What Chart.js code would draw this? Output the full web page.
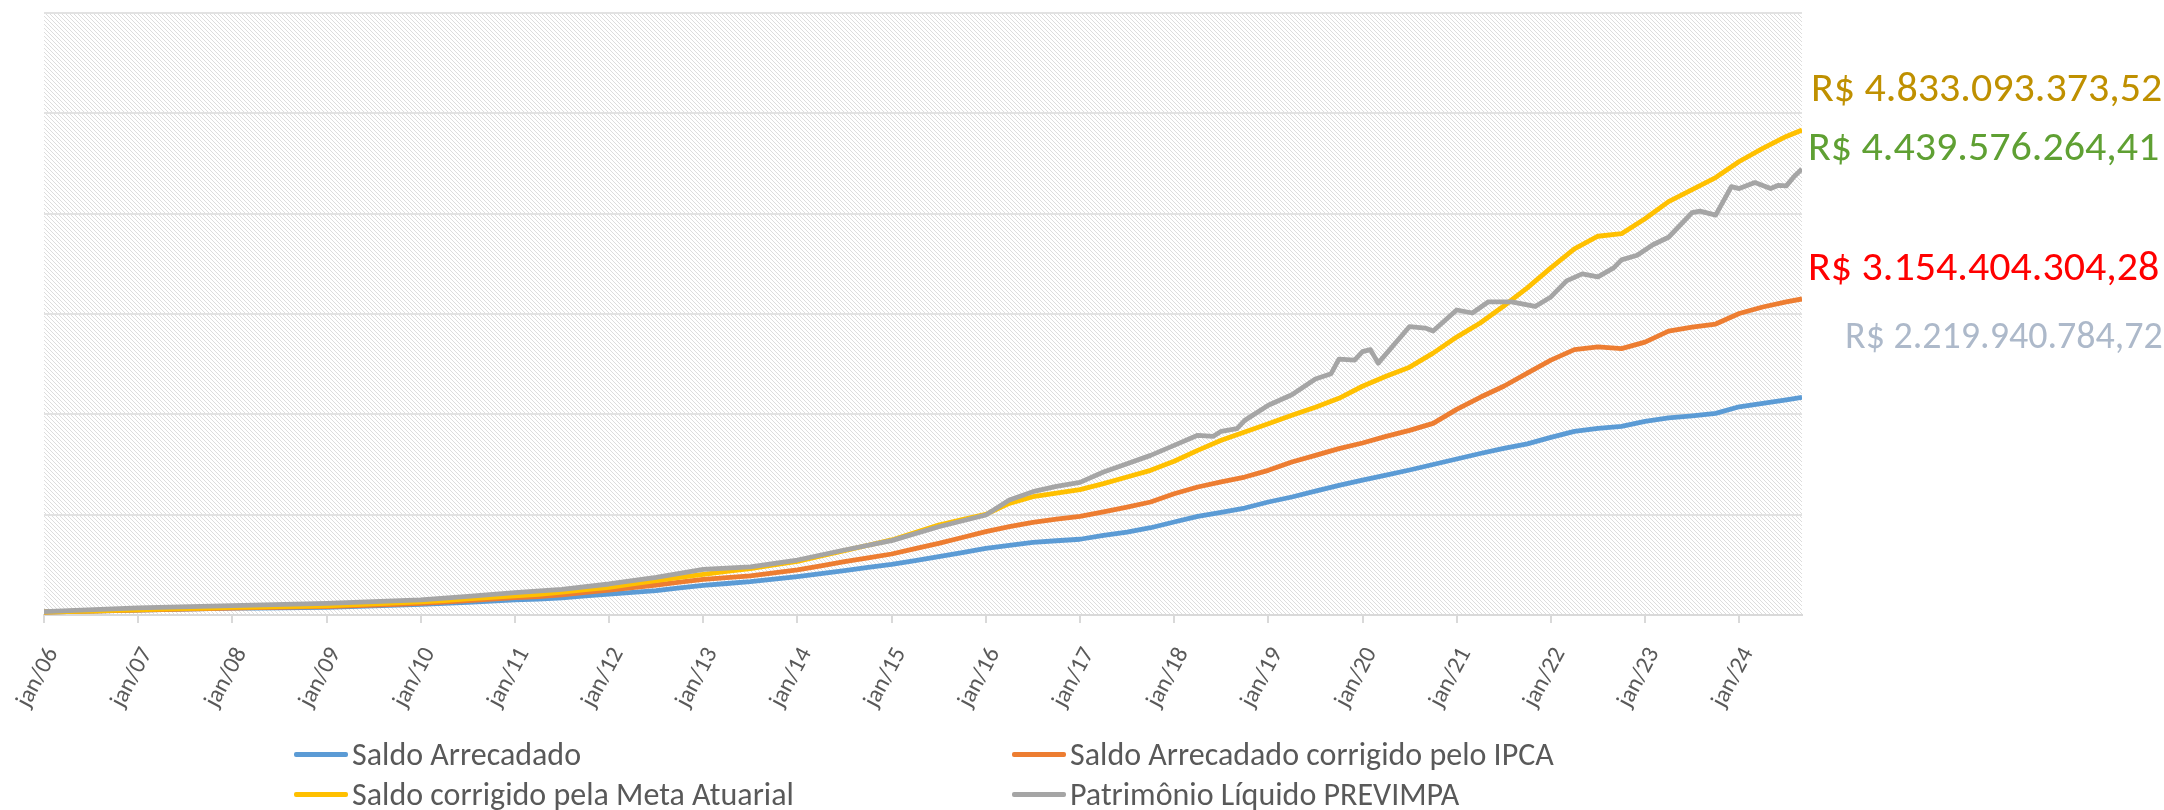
<!DOCTYPE html>
<html>
<head>
<meta charset="utf-8">
<script src="https://cdn.jsdelivr.net/npm/chart.js@4"></script>
<style>
  body { margin: 0; background: #fff; overflow: hidden; }
  #wrap { position: relative; width: 2164px; height: 810px; font-family: Carlito, Calibri, Lato, sans-serif; }
  .lg { position: absolute; display: flex; align-items: center; height: 40px; font-size: 32px; color: #595959; white-space: nowrap; }
  .sw { display: inline-block; width: 54px; height: 5px; margin-right: 4px; border-radius: 2px; }
  .tot { position: absolute; line-height: 50px; white-space: nowrap; }
</style>
</head>
<body>
<div id="wrap">
  <canvas id="chart" width="2164" height="810"></canvas>
  <div id="legend"></div>
  <div id="totals"></div>
</div>
<script>
// month index from jan/06 (0) to sep/24 (224)
const months = [0,3,6,9,12,15,18,21,24,27,30,33,36,39,42,45,48,51,54,57,60,63,66,69,72,75,78,81,84,87,90,93,96,99,102,105,108,111,114,117,120,123,126,129,132,135,138,141,144,147,150,153,156,159,162,165,168,171,174,177,180,183,186,189,192,195,198,201,204,207,210,213,216,219,222,224];

// values in R$ billions
const saldoArrecadado = [
  0.030,0.035,0.040,0.045,0.050,0.055,0.060,0.065,0.068,0.070,0.072,0.074,
  0.076,0.083,0.090,0.098,0.106,0.116,0.127,0.138,0.150,0.158,0.172,0.190,
  0.209,0.226,0.243,0.270,0.296,0.314,0.332,0.357,0.382,0.412,0.442,0.474,
  0.505,0.543,0.581,0.622,0.664,0.694,0.724,0.740,0.755,0.794,0.827,0.870,
  0.927,0.983,1.023,1.066,1.126,1.176,1.235,1.292,1.345,1.395,1.445,1.500,
  1.555,1.610,1.660,1.705,1.770,1.830,1.860,1.880,1.930,1.965,1.985,2.010,
  2.075,2.110,2.145,2.170];
const saldoIpca = [
  0.030,0.035,0.040,0.045,0.050,0.055,0.060,0.065,0.070,0.073,0.077,0.080,
  0.083,0.090,0.098,0.107,0.116,0.128,0.143,0.158,0.173,0.183,0.200,0.225,
  0.249,0.274,0.299,0.327,0.355,0.372,0.389,0.419,0.449,0.490,0.532,0.570,
  0.608,0.661,0.714,0.772,0.831,0.880,0.924,0.955,0.983,1.027,1.076,1.126,
  1.209,1.276,1.326,1.375,1.442,1.525,1.591,1.658,1.714,1.780,1.840,1.910,
  2.050,2.170,2.280,2.410,2.540,2.645,2.672,2.655,2.720,2.830,2.870,2.900,
  3.005,3.070,3.120,3.150];
const saldoMeta = [
  0.030,0.035,0.040,0.046,0.052,0.058,0.064,0.070,0.075,0.079,0.083,0.087,
  0.090,0.100,0.110,0.120,0.130,0.143,0.160,0.175,0.190,0.205,0.228,0.252,
  0.276,0.310,0.342,0.374,0.405,0.434,0.462,0.500,0.535,0.588,0.641,0.695,
  0.748,0.822,0.897,0.950,1.003,1.113,1.179,1.215,1.250,1.309,1.375,1.442,
  1.532,1.641,1.741,1.824,1.907,1.990,2.070,2.160,2.280,2.380,2.470,2.610,
  2.770,2.910,3.080,3.260,3.460,3.650,3.775,3.800,3.950,4.120,4.240,4.360,
  4.520,4.650,4.770,4.833];

const plMonths = [0,12,24,36,48,54,60,66,72,78,84,87,90,96,102,108,114,120,123,126,129,132,135,138,141,144,147,149,150,152,153,156,159,162,164,165,167,168,169,170,174,176,177,180,182,184,187,190,192,193,194,196,198,200,201,203,205,207,210,211,213,215,216,218,220,221,222,223,224];
const patrimonio = [
  0.033,0.070,0.093,0.116,0.150,0.185,0.223,0.256,0.309,0.375,
  0.455,0.468,0.480,0.548,0.648,0.741,0.880,0.997,1.146,1.229,
  1.282,1.322,1.425,1.508,1.591,1.691,1.791,1.781,1.831,1.857,
  1.940,2.090,2.195,2.352,2.405,2.550,2.540,2.625,2.645,2.510,
  2.875,2.860,2.830,3.040,3.010,3.120,3.120,3.075,3.170,3.250,
  3.330,3.400,3.370,3.460,3.540,3.585,3.690,3.765,4.010,4.025,
  3.985,4.270,4.250,4.310,4.250,4.283,4.277,4.370,4.445];

const yearTicks = [0,12,24,36,48,60,72,84,96,108,120,132,144,156,168,180,192,204,216];
const yearLabels = ['jan/06','jan/07','jan/08','jan/09','jan/10','jan/11','jan/12','jan/13','jan/14','jan/15','jan/16','jan/17','jan/18','jan/19','jan/20','jan/21','jan/22','jan/23','jan/24'];

const seriesNames = ['Saldo Arrecadado', 'Saldo Arrecadado corrigido pelo IPCA', 'Saldo corrigido pela Meta Atuarial', 'Patrimônio Líquido PREVIMPA'];
const seriesColors = ['#5B9BD5', '#ED7D31', '#FFC000', '#A5A5A5'];

const totals = ['R$ 4.833.093.373,52', 'R$ 4.439.576.264,41', 'R$ 3.154.404.304,28', 'R$ 2.219.940.784,72'];
const totalColors = ['#BF9000', '#5FA033', '#FF0000', '#ADB9CA'];

const pts = (xs, ys) => xs.map((m, i) => ({ x: m, y: ys[i] }));

// diagonal hatch for the plot area
const tile = document.createElement('canvas');
tile.width = 4; tile.height = 4;
const tctx = tile.getContext('2d');
tctx.fillStyle = '#fff';
tctx.fillRect(0, 0, 4, 4);
tctx.fillStyle = '#DDDDDD';
for (let i = 0; i < 4; i++) tctx.fillRect(i, i, 1, 1);

const hatch = {
  id: 'hatch',
  beforeDraw(chart) {
    const a = chart.chartArea, ctx = chart.ctx;
    ctx.save();
    ctx.fillStyle = ctx.createPattern(tile, 'repeat');
    ctx.fillRect(a.left, a.top, a.right - a.left, a.bottom - a.top);
    ctx.restore();
  }
};

const font = "Carlito, Calibri, Lato, sans-serif";
const allData = [pts(months, saldoArrecadado), pts(months, saldoIpca), pts(months, saldoMeta), pts(plMonths, patrimonio)];

new Chart(document.getElementById('chart'), {
  type: 'line',
  data: {
    datasets: allData.map((d, i) => ({
      label: seriesNames[i],
      data: d,
      borderColor: seriesColors[i],
      backgroundColor: seriesColors[i],
      borderWidth: 4.8,
      pointRadius: 0,
      tension: 0,
      borderJoinStyle: 'round',
      order: 4 - i
    }))
  },
  options: {
    responsive: false,
    animation: false,
    layout: { padding: { left: 44, top: 13, right: 362, bottom: 0 } },
    plugins: { legend: { display: false }, tooltip: { enabled: false } },
    scales: {
      x: {
        type: 'linear',
        min: 0,
        max: 224,
        afterBuildTicks: s => { s.ticks = yearTicks.map(v => ({ value: v })); },
        afterFit: s => { s.height = 195; s.paddingLeft = 0; s.paddingRight = 0; },
        ticks: {
          autoSkip: false,
          minRotation: 62,
          maxRotation: 62,
          padding: 20,
          labelOffset: 9,
          color: '#595959',
          font: { family: font, size: 24 },
          callback: v => yearLabels[yearTicks.indexOf(v)]
        },
        grid: { drawOnChartArea: false, color: '#D9D9D9', lineWidth: 2, tickLength: 8 },
        border: { color: '#D9D9D9', width: 2 }
      },
      y: {
        min: 0,
        max: 6,
        afterFit: s => { s.width = 0; },
        ticks: { stepSize: 1, display: false },
        grid: { color: '#E2E2E2', lineWidth: 2, drawTicks: false },
        border: { display: false }
      }
    }
  },
  plugins: [hatch]
});

// legend, two columns
const legend = document.getElementById('legend');
const legendPos = [[294, 734], [1012, 734], [294, 774], [1012, 774]];
seriesNames.forEach((n, i) => {
  const d = document.createElement('div');
  d.className = 'lg';
  d.style.left = legendPos[i][0] + 'px';
  d.style.top = legendPos[i][1] + 'px';
  d.innerHTML = '<span class="sw" style="background:' + seriesColors[i] + '"></span>' + n;
  legend.appendChild(d);
});

// final values at the right
const totalsBox = document.getElementById('totals');
const totalPos = [[1811, 62], [1808, 121], [1808, 241], [1845, 310]];
const totalSizes = [42, 42, 42, 38];
totals.forEach((t, i) => {
  const d = document.createElement('div');
  d.className = 'tot';
  d.style.left = totalPos[i][0] + 'px';
  d.style.top = totalPos[i][1] + 'px';
  d.style.fontSize = totalSizes[i] + 'px';
  d.style.color = totalColors[i];
  d.textContent = t;
  totalsBox.appendChild(d);
});
</script>
</body>
</html>
